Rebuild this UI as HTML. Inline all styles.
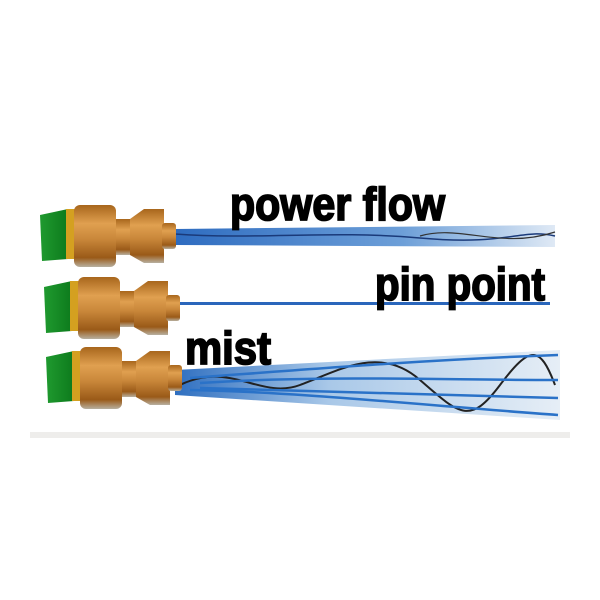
<!DOCTYPE html>
<html><head><style>body{margin:0;background:#fff}svg{display:block}</style></head><body>
<svg width="600" height="600" viewBox="0 0 600 600" xmlns="http://www.w3.org/2000/svg">
<defs>
<linearGradient id="brass" x1="0" y1="0" x2="0" y2="1">
<stop offset="0" stop-color="#a8661c"/><stop offset="0.3" stop-color="#e0a050"/><stop offset="0.55" stop-color="#c9873a"/><stop offset="0.85" stop-color="#9a5a18"/><stop offset="1" stop-color="#b8b0a0"/></linearGradient>
<linearGradient id="green" x1="0" y1="0" x2="1" y2="0"><stop offset="0" stop-color="#1f9a2f"/><stop offset="1" stop-color="#0d7a1c"/></linearGradient>
<linearGradient id="mist" x1="0" y1="0" x2="1" y2="0"><stop offset="0" stop-color="#2f6fc0"/><stop offset="0.4" stop-color="#a9c8e8"/><stop offset="1" stop-color="#e6eef6"/></linearGradient>
<linearGradient id="pf" x1="0" y1="0" x2="1" y2="0"><stop offset="0" stop-color="#2e6cc0"/><stop offset="0.6" stop-color="#6d9fd8"/><stop offset="1" stop-color="#dfe9f5"/></linearGradient>
<g id="noz">
<path d="M0,10 L28,4 L28,54 L2,56 Z" fill="url(#green)"/>
<rect x="26" y="4" width="10" height="50" fill="#d4a020"/>
<rect x="34" y="0" width="42" height="62" rx="6" fill="url(#brass)"/>
<rect x="76" y="14" width="16" height="36" fill="url(#brass)"/>
<path d="M90,14 L104,4 L124,4 L124,58 L104,58 L90,50 Z" fill="url(#brass)"/>
<rect x="122" y="18" width="14" height="26" rx="3" fill="url(#brass)"/>
</g>
</defs>
<path d="M175,229 L555,225 L555,247 L175,245 Z" fill="url(#pf)"/>
<path d="M175,234 C260,240 330,230 420,238 S520,228 555,236" stroke="#1a3a7a" stroke-width="1.5" fill="none"/>
<path d="M420,236 C460,224 500,250 555,232" stroke="#333" stroke-width="1.2" fill="none"/>
<rect x="175" y="302" width="375" height="3" fill="#2a66bb"/>
<path d="M175,370 L560,350 L560,420 L175,395 Z" fill="url(#mist)"/>
<path d="M180,385 C230,360 260,400 300,385 S380,345 420,380 S470,425 500,385 S540,345 555,385" stroke="#222" stroke-width="2" fill="none"/>
<path d="M190,378 C300,370 420,360 558,355 M190,390 C300,392 420,405 558,415 M200,383 C320,375 440,380 558,380 M200,388 C320,392 440,395 558,398" stroke="#2a72c8" stroke-width="2.5" fill="none"/>
<rect x="30" y="432" width="540" height="6" fill="#eeedeb"/>
<use href="#noz" x="40" y="205"/>
<use href="#noz" x="44" y="277"/>
<use href="#noz" x="46" y="347"/>
<g font-family="Liberation Sans, sans-serif" font-weight="bold" font-size="46" fill="#000" stroke="#000" stroke-width="1.8">
<text x="230" y="220" textLength="215" lengthAdjust="spacingAndGlyphs">power flow</text>
<text x="375" y="300" textLength="170" lengthAdjust="spacingAndGlyphs">pin point</text>
<text x="185" y="364" textLength="86" lengthAdjust="spacingAndGlyphs">mist</text>
</g>
</svg>
</body></html>
